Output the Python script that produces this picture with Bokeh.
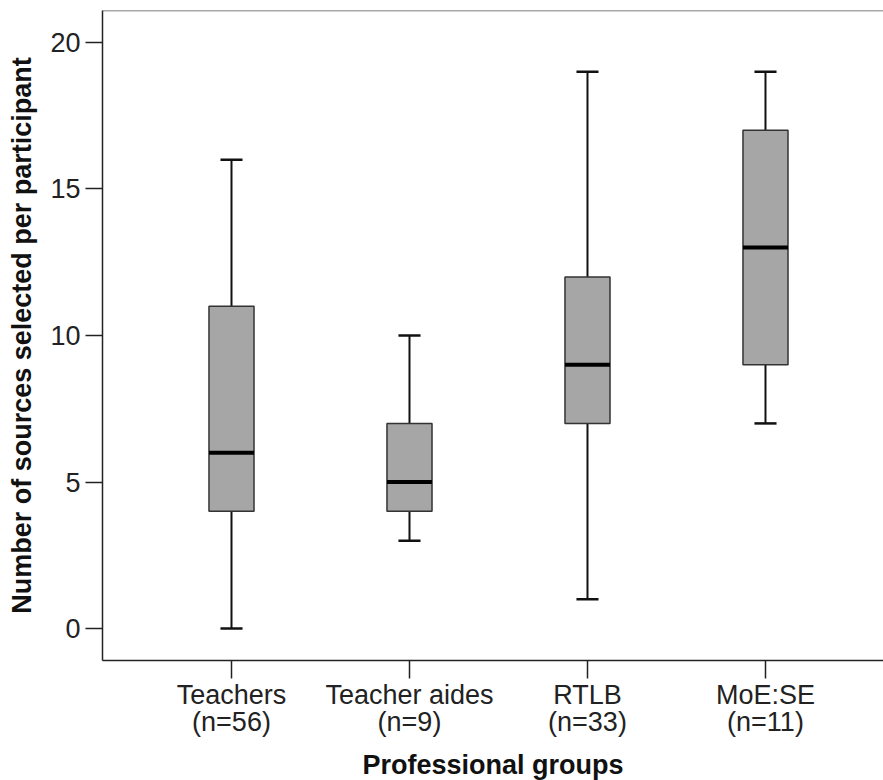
import numpy as np
from bokeh.plotting import figure
from bokeh.models import ColumnDataSource, FixedTicker, Range1d, Span
from bokeh.embed import file_html
from bokeh.resources import INLINE

# ---- data ----
groups = ["Teachers", "Teacher aides", "RTLB", "MoE:SE"]
n_counts = [56, 9, 33, 11]
w_low = [0, 3, 1, 7]
q1 = [4, 4, 7, 9]
median = [6, 5, 9, 13]
q3 = [11, 7, 12, 17]
w_high = [16, 10, 19, 19]
y_ticks = [0, 5, 10, 15, 20]

x = np.arange(1, len(groups) + 1, dtype=float)
box_w = 0.253
cap_w = 0.124

src = ColumnDataSource(dict(
    x=x, lo=w_low, q1=q1, med=median, q3=q3, hi=w_high,
    bx0=x - box_w / 2, bx1=x + box_w / 2,
    cx0=x - cap_w / 2, cx1=x + cap_w / 2,
))

FONT = "Liberation Sans"

p = figure(
    frame_width=781, frame_height=650,
    min_border_left=102, min_border_right=0, min_border_top=10, min_border_bottom=120,
    x_range=Range1d(0.2753, 4.663), y_range=Range1d(-1.09, 21.09),
    output_backend="svg", toolbar_location=None,
    background_fill_color="white", border_fill_color="white",
)
p.outline_line_color = None
p.xgrid.visible = False
p.ygrid.visible = False

# whiskers
p.segment(x0="x", y0="q3", x1="x", y1="hi", source=src, line_color="#111111", line_width=2)
p.segment(x0="x", y0="lo", x1="x", y1="q1", source=src, line_color="#111111", line_width=2)
# boxes
p.vbar(x="x", width=box_w, bottom="q1", top="q3", source=src,
       fill_color="#a6a6a6", line_color="#333333", line_width=1.5)
# medians
p.segment(x0="bx0", y0="med", x1="bx1", y1="med", source=src, line_color="#000000", line_width=4)
# caps
p.segment(x0="cx0", y0="hi", x1="cx1", y1="hi", source=src, line_color="#111111", line_width=2.5)
p.segment(x0="cx0", y0="lo", x1="cx1", y1="lo", source=src, line_color="#111111", line_width=2.5)

# top frame line
p.add_layout(Span(location=21.09, dimension="width", line_color="#555555", line_width=1.5))

# axes
xa = p.xaxis[0]
xa.ticker = FixedTicker(ticks=list(x))
labels = {}
for xi, g, n in zip(x, groups, n_counts):
    labels[float(xi)] = f"{g}\n(n={n})"
    labels[int(xi)] = f"{g}\n(n={n})"
xa.major_label_overrides = labels
xa.axis_label = "Professional groups"

ya = p.yaxis[0]
ya.ticker = FixedTicker(ticks=y_ticks)
ya.axis_label = "Number of sources selected per participant"

for ax in (xa, ya):
    ax.axis_line_color = "#222222"
    ax.axis_line_width = 1.5
    ax.major_tick_line_color = "#222222"
    ax.major_tick_line_width = 1.5
    ax.major_tick_in = 0
    ax.minor_tick_line_color = None
    ax.major_label_text_font = FONT
    ax.major_label_text_font_size = "27px"
    ax.major_label_text_color = "#222222"
    ax.axis_label_text_font = FONT
    ax.axis_label_text_font_size = "27px"
    ax.axis_label_text_font_style = "bold"
    ax.axis_label_text_color = "#111111"

xa.major_tick_out = 18
ya.major_tick_out = 17
xa.major_label_standoff = 1
ya.major_label_standoff = 5
xa.major_label_text_line_height = 0.92
xa.axis_label_standoff = 10
ya.axis_label_standoff = 10

open("out.html", "w").write(file_html(p, INLINE))
